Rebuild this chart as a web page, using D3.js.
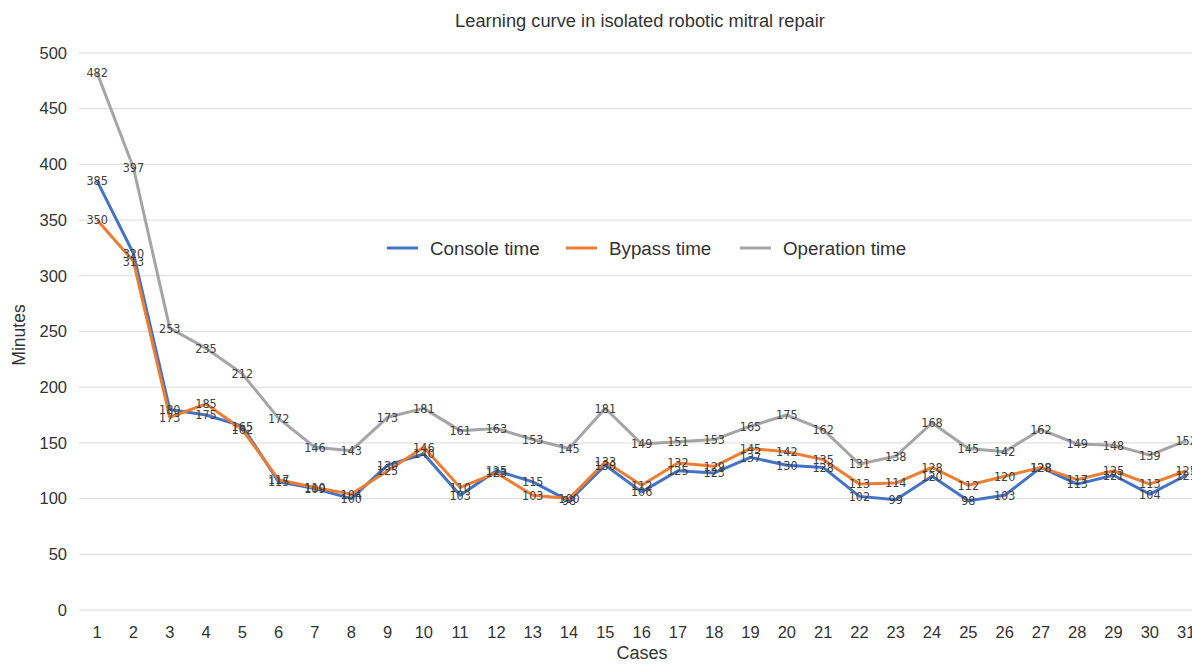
<!DOCTYPE html>
<html><head><meta charset="utf-8">
<script src="https://cdn.jsdelivr.net/npm/d3@7"></script>
<style>body{margin:0;background:#fff;}svg{display:block;font-family:"Liberation Sans",Arial,sans-serif;}</style>
</head><body><svg id="c" width="1192" height="664"></svg>
<script>
const cases = d3.range(1, 32);
const consoleTime = [385,320,180,175,165,115,109,100,130,140,103,125,115,98,130,106,125,123,137,130,128,102,99,120,98,103,128,113,121,104,121];
const bypassTime = [350,313,173,185,162,117,110,104,125,146,110,123,103,100,133,112,132,129,145,142,135,113,114,128,112,120,128,117,125,113,125];
const operationTime = [482,397,253,235,212,172,146,143,173,181,161,163,153,145,181,149,151,153,165,175,162,131,138,168,145,142,162,149,148,139,152];
const yTicks = [0,50,100,150,200,250,300,350,400,450,500];
const seriesNames = ["Console time","Bypass time","Operation time"];
const colors = ["#4472C4","#ED7D31","#A5A5A5"];

const svg = d3.select("#c");
const x = d3.scaleBand().domain(cases).range([79, 79 + 31*36.3]);
const y = d3.scaleLinear().domain([0,500]).range([610,53]);
const cx = d => x(d) + x.bandwidth()/2;

svg.append("g").selectAll("line").data(yTicks).join("line")
  .attr("x1",79).attr("x2",1192).attr("y1",d=>y(d)).attr("y2",d=>y(d))
  .attr("stroke","#d9d9d9").attr("stroke-width",1);

svg.append("g").selectAll("text").data(yTicks).join("text")
  .attr("x",67).attr("y",d=>y(d)).attr("dy","0.35em").attr("text-anchor","end")
  .attr("font-size",16.5).attr("fill","#333").text(d=>d);

svg.append("g").selectAll("text").data(cases).join("text")
  .attr("x",d=>cx(d)).attr("y",632).attr("dy","0.35em").attr("text-anchor","middle")
  .attr("font-size",16.5).attr("fill","#333").text(d=>d);

svg.append("text").attr("x",640).attr("y",27).attr("text-anchor","middle")
  .attr("font-size",18.3).attr("fill","#333").text("Learning curve in isolated robotic mitral repair");
svg.append("text").attr("x",642).attr("y",659).attr("text-anchor","middle")
  .attr("font-size",18).attr("fill","#333").text("Cases");
svg.append("text").attr("transform","translate(25,335) rotate(-90)").attr("text-anchor","middle")
  .attr("font-size",17.5).attr("fill","#333").text("Minutes");

const series = [consoleTime, bypassTime, operationTime];
const line = d3.line().x((d,i)=>cx(cases[i])).y(d=>y(d));
series.forEach((s,k)=>{
  svg.append("path").datum(s).attr("d",line).attr("fill","none")
    .attr("stroke",colors[k]).attr("stroke-width",3).attr("stroke-linejoin","round");
});
series.forEach((s,k)=>{
  svg.append("g").selectAll("text").data(s).join("text")
    .attr("x",(d,i)=>cx(cases[i])).attr("y",d=>y(d)).attr("dy","0.35em")
    .attr("text-anchor","middle").attr("font-family","'DejaVu Sans Condensed','DejaVu Sans',sans-serif")
    .attr("font-size",12.5).attr("fill","#404040").text(d=>d);
});

const legX = [387, 566, 740];
seriesNames.forEach((n,k)=>{
  svg.append("line").attr("x1",legX[k]).attr("x2",legX[k]+31).attr("y1",248).attr("y2",248)
    .attr("stroke",colors[k]).attr("stroke-width",3);
  svg.append("text").attr("x",legX[k]+43).attr("y",248).attr("dy","0.35em")
    .attr("font-size",18.8).attr("fill","#333").text(n);
});
</script></body></html>
